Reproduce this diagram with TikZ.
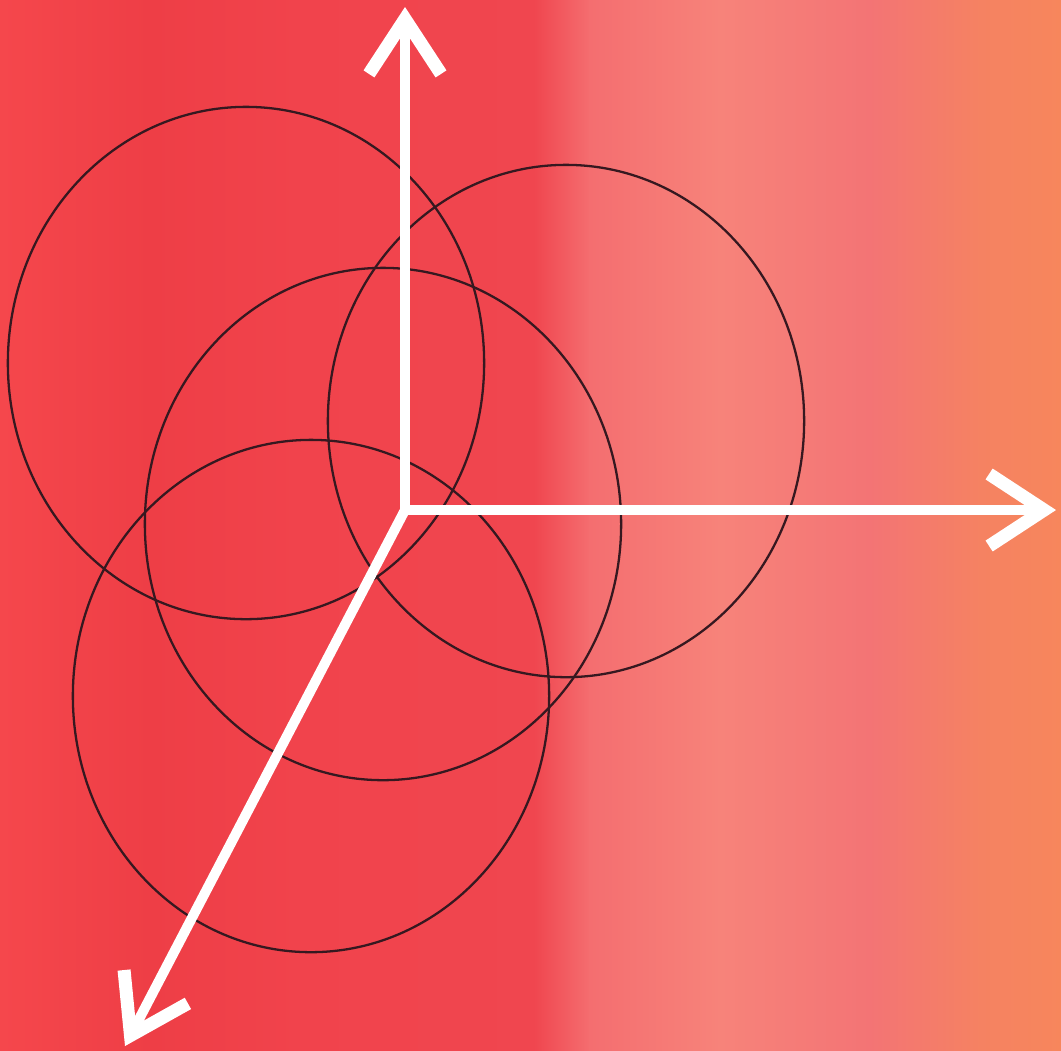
\documentclass[tikz,border=0pt]{standalone}
\usepackage{xcolor}
\usepackage{tikz}
\usetikzlibrary{arrows.meta}
\definecolor{bgA}{HTML}{F5474C}
\definecolor{bgB}{HTML}{EE3E46}
\definecolor{bgC}{HTML}{F1434C}
\definecolor{bgD}{HTML}{F0464F}
\definecolor{bgE}{HTML}{F46E70}
\definecolor{bgF}{HTML}{F7837A}
\definecolor{bgG}{HTML}{F37475}
\definecolor{bgH}{HTML}{F58262}
\definecolor{bgI}{HTML}{F7865C}
\definecolor{ringline}{HTML}{361820}

\begin{document}
\begin{tikzpicture}[
  x=0.01cm, y=-0.01cm,
  ring/.style={draw=ringline, line width=0.65pt},
  axis/.style={draw=white, line width=0.1cm,
               -{Straight Barb[length=0.55cm, width=0.72cm, line width'=0.13cm, sharp]}}
]
\useasboundingbox (0,0) rectangle (1061,1050);
% background bands
\foreach \xa/\ca/\xb/\cb in {0/bgA/150/bgB, 150/bgB/300/bgC, 300/bgC/535/bgD,
    535/bgD/590/bgE, 590/bgE/720/bgF, 720/bgF/870/bgG, 870/bgG/980/bgH,
    980/bgH/1061/bgI}
  \shade[left color=\ca, right color=\cb] (\xa-1,-1) rectangle (\xb+1,1051);
% rings
\coordinate (c1) at (246,363);
\coordinate (c2) at (566,421);
\coordinate (c3) at (383,524);
\coordinate (c4) at (311,696);
\foreach \c in {c1,c2,c3,c4}
  \draw[ring] (\c) ellipse [x radius=2.38cm, y radius=2.56cm];
% axes
\coordinate (O) at (405,510);
\coordinate (ytip) at (405,7);
\coordinate (xtip) at (1056,510);
\coordinate (ztip) at (125,1046);
\draw[axis] (O) -- (ytip);
\draw[axis] (O) -- (xtip);
\draw[axis] (O) -- (ztip);
\end{tikzpicture}
\end{document}
